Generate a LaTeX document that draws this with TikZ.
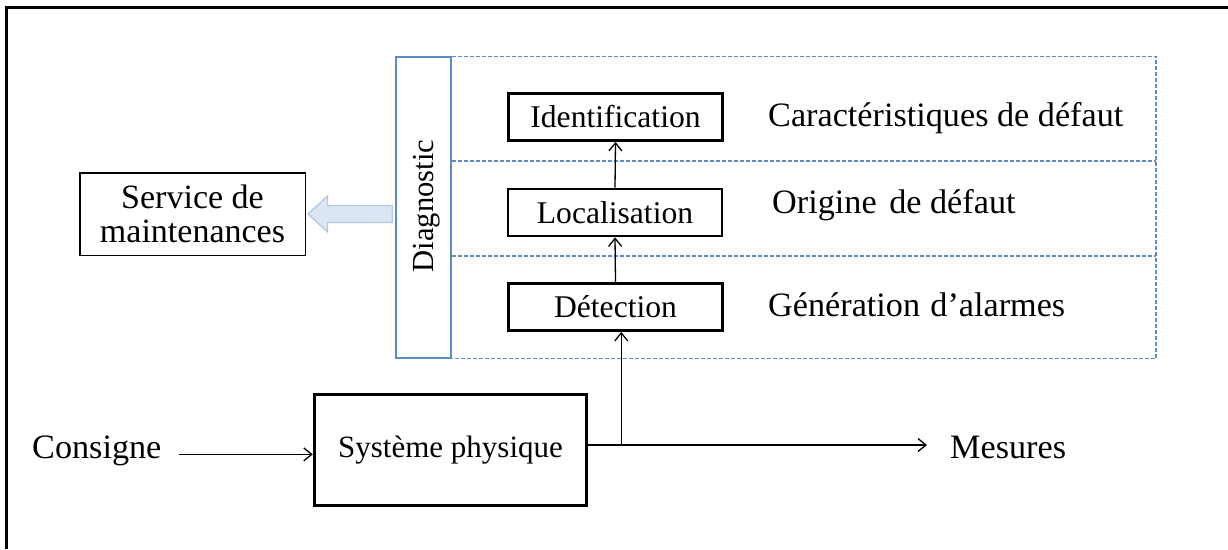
\documentclass[tikz,border=0pt]{standalone}
\usepackage{fontspec}
\setmainfont{Liberation Serif}
\usetikzlibrary{arrows.meta,calc}
\definecolor{diagblue}{RGB}{91,139,200}
\definecolor{hollowfill}{RGB}{220,230,242}
\definecolor{hollowline}{RGB}{180,201,228}
\begin{document}
\begin{tikzpicture}[x=1pt,y=-1pt,
  stagebox/.style={draw, line width=2.8pt, minimum width=214pt, minimum height=47pt,
    inner sep=0pt, font=\fontsize{31.6}{36}\selectfont},
  lbl/.style={inner sep=0pt, anchor=base west, font=\fontsize{34.2}{38}\selectfont},
  arr/.style={-{Straight Barb[length=8pt,width=13pt,line width=1.3pt]}, line width=1.3pt},
  dashline/.style={draw=diagblue, line width=1.3pt, dash pattern=on 4pt off 2pt},
  hollow/.style={draw=hollowline, fill=hollowfill, line width=1.3pt, line join=miter}]
\useasboundingbox (0,0) rectangle (1228,549);

% outer frame (top and left edges)
\draw[line width=3pt] (6.5,549) -- (6.5,7) -- (1228,7);

% diagnostic band
\node[draw=diagblue, line width=1.5pt, minimum width=55pt, minimum height=301pt, inner sep=0pt]
  (diag) at (423.5,207.5) {};
\node[rotate=90, inner sep=0pt, font=\fontsize{30.6}{34}\selectfont] (diagtxt) at (427,206) {Diagnostic};
\coordinate (dright) at (1156,0);
\coordinate (sep1) at (0,161);
\coordinate (sep2) at (0,256);
\draw[dashline] (diag.north east) -- (diag.north east -| dright) -- (diag.south east -| dright) -- (diag.south east);
\draw[dashline] (diag.east |- sep1) -- (dright |- sep1);
\draw[dashline] (diag.east |- sep2) -- (dright |- sep2);

% stages
\node[stagebox] (ident)  at (615.5,117)   {Identification};
\node[stagebox] (local)  at (615,212.5)   {Localisation};
\node[stagebox] (detect) at (615.5,307)   {Détection};

\node[lbl] (carac) at (768,126) {Caractéristiques de défaut};
\node[lbl] (orig)  at (772,213) {Origine\hspace{0.12em} de défaut};
\node[lbl] (gen)   at (768,316) {Génération\hspace{0.05em} d’alarmes};

\draw[arr] (detect.north) -- (local.south);
\draw[arr] (local.north) -- (ident.south);

% maintenance service
\node[draw, line width=1.5pt, minimum width=225.5pt, minimum height=82.5pt, align=center,
  inner sep=0pt, font=\fontsize{34}{34}\selectfont] (svc) at (192.5,214) {Service de\\maintenances};
\coordinate (tip) at ($(svc.east)+(2,0)$);
\coordinate (bodyend) at ($(diag.west |- tip)+(-3,0)$);
\draw[hollow] (tip) -- ++(19.5,-18) -- ++(0,9.5) -- ($(bodyend)+(0,-8.5)$)
  -- ($(bodyend)+(0,8.5)$) -- ($(tip)+(19.5,8.5)$) -- ($(tip)+(19.5,18)$) -- cycle;

% physical system and signals
\node[draw, line width=3.5pt, minimum width=272pt, minimum height=111pt, inner sep=0pt,
  font=\fontsize{31}{36}\selectfont] (sys) at (450.5,450) {Système physique};
\node[lbl] (cons) at (32,458) {Consigne};
\node[lbl] (mes)  at (950,458) {Mesures};

\coordinate (cstart) at ($(cons.east)+(17,4)$);
\draw[arr] (cstart) -- (cstart -| sys.west);

\coordinate (sysout) at ($(sys.east)+(0,-5)$);
\coordinate (mesin) at ($(mes.west)+(-23,0)$);
\draw[arr] (sysout) -- (sysout -| mesin);
\coordinate (junc) at ($(sysout)+(33,0)$);
\draw[arr] (junc) -- (junc |- detect.south);
\end{tikzpicture}
\end{document}
